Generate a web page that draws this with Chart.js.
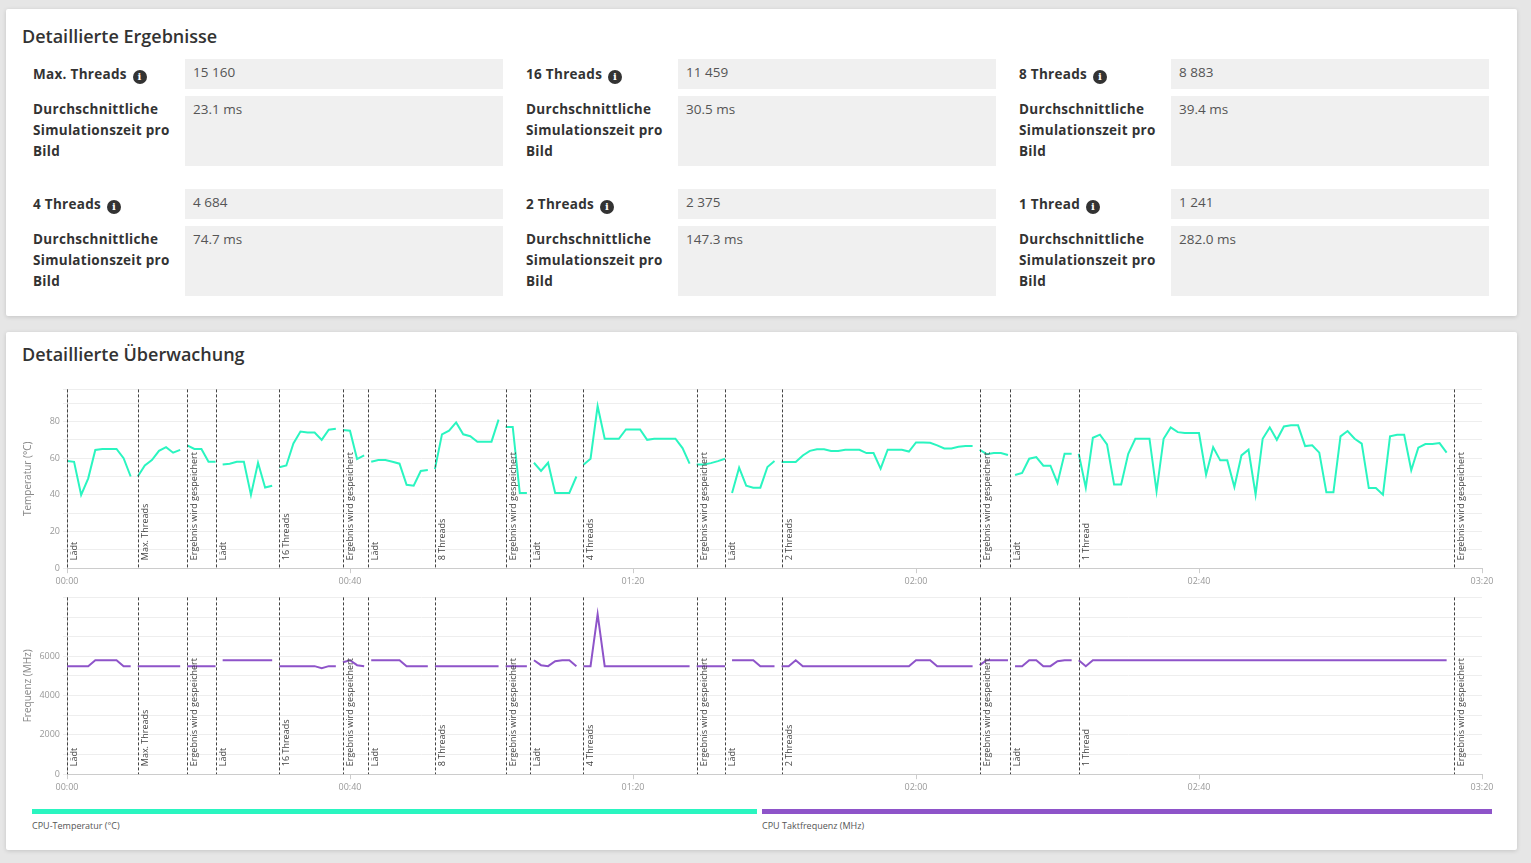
<!DOCTYPE html>
<html lang="de">
<head>
<meta charset="UTF-8">
<title>Detaillierte Ergebnisse</title>
<script src="https://cdn.jsdelivr.net/npm/chart.js"></script>
<style>
  body { margin:0; width:1531px; height:863px; background:#e6e6e6; font-family:"Open Sans", sans-serif; position:relative; overflow:hidden; }
  .card { position:absolute; left:6px; width:1511px; background:#fff; box-shadow:0 1px 4px rgba(0,0,0,0.15); border-radius:2px; }
  .card h2 { position:absolute; left:16px; margin:0; font-size:18px; font-weight:600; color:#333; }
  .lbl { position:absolute; font-size:13.5px; font-weight:700; color:#333; line-height:21px; letter-spacing:0.3px; }
  .val { position:absolute; width:318px; background:#f0f0f0; font-size:13.5px; color:#555; padding:4px 8px; box-sizing:border-box; }
  .info { display:inline-block; width:14px; height:14px; border-radius:50%; background:#333; color:#fff; font-size:10px; line-height:14px; text-align:center; font-family:"DejaVu Serif",serif; font-weight:700; vertical-align:-1px; margin-left:2px; }
  canvas { position:absolute; }
  .leg { position:absolute; height:5px; }
  .legt { position:absolute; font-size:9px; color:#555; }
</style>
</head>
<body>
<div class="card" style="top:9px;height:307px" id="c1"><h2 style="top:15px">Detaillierte Ergebnisse</h2></div>
<div class="card" style="top:332px;height:518px"><h2 style="top:10px">Detaillierte Überwachung</h2></div>
<canvas id="tempChart" style="left:20px;top:381px;width:1480px;height:209px"></canvas>
<canvas id="freqChart" style="left:20px;top:589px;width:1480px;height:207px"></canvas>
<div class="leg" style="left:32px;top:809px;width:725px;background:#2af5c0"></div>
<div class="leg" style="left:762px;top:809px;width:730px;background:#8e54c9"></div>
<div class="legt" style="left:32px;top:819px">CPU-Temperatur (°C)</div>
<div class="legt" style="left:762px;top:819px">CPU Taktfrequenz (MHz)</div>

<script>
// result table
const resultNames = ['Max. Threads', '16 Threads', '8 Threads', '4 Threads', '2 Threads', '1 Thread'];
const resultScores = ['15 160', '11 459', '8 883', '4 684', '2 375', '1 241'];
const resultTimes = ['23.1 ms', '30.5 ms', '39.4 ms', '74.7 ms', '147.3 ms', '282.0 ms'];

// phase markers (seconds)
const phaseTimes = [0, 10, 17, 21, 30, 39, 42.5, 52, 62, 65.5, 73, 89, 93, 101, 129, 133.3, 143, 196];
const phaseLabels = ['Lädt', 'Max. Threads', 'Ergebnis wird gespeichert', 'Lädt', '16 Threads', 'Ergebnis wird gespeichert',
  'Lädt', '8 Threads', 'Ergebnis wird gespeichert', 'Lädt', '4 Threads', 'Ergebnis wird gespeichert', 'Lädt', '2 Threads',
  'Ergebnis wird gespeichert', 'Lädt', '1 Thread', 'Ergebnis wird gespeichert'];

// start second of each measured segment
const segmentStarts = [0, 10, 17, 22, 30, 39, 43, 52, 62, 66, 73, 89, 94, 101, 129, 134, 143];
const tempSegments = [
  [58.5,58,40,49,64.5,65,65,65,60,50],
  [50,56,59,64,66,63,64.5],
  [67,65,65,58,58],
  [56.5,57,58,58,40,57.5,44,45],
  [55,56,68,74.5,74,74,70,75.5,76],
  [75.3,75,59.5,61.5],
  [58,59,59,58,57,45.5,45,53,53.5],
  [54,73,75,79.5,73,72,69,69,69,81],
  [77,77,41,41],
  [57.5,53,57.5,41,41,41,50],
  [56.4,59.7,88.4,70.6,70.6,70.6,75.7,75.7,75.7,70,70.6,70.6,70.6,70.6,65.5,57],
  [56.6,56.6,57.3,58.4,59.7],
  [41,54.8,45,43.9,43.9,55.2,58.4],
  [57.9,57.9,57.9,61.5,64,64.8,64.8,63.9,63.9,64.6,64.6,64.6,62.8,62.8,54.3,64.6,64.6,64.6,63.6,68.6,68.6,68.4,67,65.3,65.3,66.2,66.6,66.6],
  [64.6,62.2,62.8,62.8,61.7],
  [50.8,51.9,59.7,60.6,55.9,55.9,46.5,62.4,62.4],
  [62.4,43.9,71.1,72.8,67.5,45.6,45.6,62.4,70.6,70.6,70.6,41.9,70.6,76.8,74.2,73.7,73.7,73.7,51,66,58.8,58.8,44.3,61.5,64.6,40.1,
   70.6,76.8,70,77.3,77.9,77.9,66.6,67,63,41.4,41.4,71.9,74.8,70.6,67.9,43.7,43.7,40.1,71.9,72.8,72.8,53.4,65.7,67.7,67.7,68.2,63]
];
const freqSegments = [
  [5500,5500,5500,5500,5800,5800,5800,5800,5500,5500],
  [5500,5500,5500,5500,5500,5500,5500],
  [5500,5500,5500,5500,5500],
  [5800,5800,5800,5800,5800,5800,5800,5800],
  [5500,5500,5500,5500,5500,5500,5400,5500,5500],
  [5700,5800,5550,5500],
  [5800,5800,5800,5800,5800,5500,5500,5500,5500],
  [5500,5500,5500,5500,5500,5500,5500,5500,5500,5500],
  [5500,5500,5500,5500],
  [5800,5550,5500,5750,5800,5800,5500],
  [5500,5500,8150,5500,5500,5500,5500,5500,5500,5500,5500,5500,5500,5500,5500,5500],
  [5500,5500,5500,5500,5500],
  [5800,5800,5800,5800,5500,5500,5500],
  [5500,5500,5800,5500,5500,5500,5500,5500,5500,5500,5500,5500,5500,5500,5500,5500,5500,5500,5500,5800,5800,5800,5500,5500,5500,5500,5500,5500],
  [5550,5800,5800,5800,5800],
  [5500,5500,5800,5800,5500,5500,5750,5800,5800],
  [5800,5500].concat(new Array(51).fill(5800))
];

// build table
const c1 = document.getElementById('c1');
resultNames.forEach((name, i) => {
  const col = i % 3, row = Math.floor(i / 3);
  const lx = 27 + col * 493, bx = 179 + col * 493, ty = row * 130;
  c1.insertAdjacentHTML('beforeend',
    `<div class="lbl" style="left:${lx}px;top:${55 + ty}px">${name} <span class="info">i</span></div>` +
    `<div class="val" style="left:${bx}px;top:${50 + ty}px;height:30px">${resultScores[i]}</div>` +
    `<div class="lbl" style="left:${lx}px;top:${90 + ty}px">Durchschnittliche<br>Simulationszeit pro<br>Bild</div>` +
    `<div class="val" style="left:${bx}px;top:${87 + ty}px;height:70px">${resultTimes[i]}</div>`);
});

function buildPoints(segs) {
  const pts = [];
  segs.forEach((vals, s) => {
    vals.forEach((v, i) => pts.push({ x: segmentStarts[s] + i, y: v }));
    pts.push({ x: segmentStarts[s] + vals.length - 0.5, y: null });
  });
  return pts;
}

const phasePlugin = {
  id: 'phases',
  afterDatasetsDraw(chart) {
    const { ctx, chartArea, scales } = chart;
    ctx.save();
    phaseTimes.forEach((t, i) => {
      const x = Math.round(scales.x.getPixelForValue(t)) + 0.5;
      ctx.strokeStyle = '#444';
      ctx.lineWidth = 1;
      ctx.setLineDash([3, 2]);
      ctx.beginPath();
      ctx.moveTo(x, chartArea.top);
      ctx.lineTo(x, chartArea.bottom);
      ctx.stroke();
      ctx.setLineDash([]);
      ctx.translate(x + 7, chartArea.bottom - 8);
      ctx.rotate(-Math.PI / 2);
      ctx.fillStyle = '#444';
      ctx.font = '9px "Open Sans"';
      ctx.textBaseline = 'middle';
      ctx.fillText(phaseLabels[i], 0, 0);
      ctx.setTransform(chart.currentDevicePixelRatio, 0, 0, chart.currentDevicePixelRatio, 0, 0);
    });
    ctx.restore();
  }
};

function fmtTime(v) {
  const m = Math.floor(v / 60), s = v % 60;
  return String(m).padStart(2, '0') + ':' + String(s).padStart(2, '0');
}

function makeChart(id, points, color, title, max, step, lastLabel) {
  return new Chart(document.getElementById(id), {
    type: 'line',
    data: { datasets: [{ data: points, borderColor: color, borderWidth: 2, pointRadius: 0, tension: 0, spanGaps: false }] },
    options: {
      responsive: false, animation: false,
      layout: { padding: { top: 0, right: 18, left: 0, bottom: 0 } },
      plugins: { legend: { display: false }, tooltip: { enabled: false } },
      scales: {
        x: {
          type: 'linear', min: 0, max: 200,
          ticks: { stepSize: 40, callback: fmtTime, color: '#999', font: { size: 9, family: 'Open Sans' }, maxRotation: 0 },
          grid: { drawOnChartArea: false, tickLength: 5, color: '#ccc' },
          border: { color: '#ccc' }
        },
        y: {
          min: 0, max: max,
          afterFit: s => { s.width = 47; },
          ticks: { stepSize: step / 2, callback: v => (Math.round(v) % step === 0 && v <= lastLabel ? v : ''), color: '#999', font: { size: 9, family: 'Open Sans' }, autoSkip: false },
          grid: { color: '#eee', tickLength: 4 },
          border: { color: '#ccc' },
          title: { display: true, text: title, color: '#888', font: { size: 10, family: 'Open Sans' }, padding: 2 }
        }
      }
    },
    plugins: [phasePlugin]
  });
}

const tc = document.getElementById('tempChart'); tc.width = 1480; tc.height = 209;
const fc = document.getElementById('freqChart'); fc.width = 1480; fc.height = 207;
makeChart('tempChart', buildPoints(tempSegments), '#2af5c0', 'Temperatur (°C)', 97.5, 20, 80);
makeChart('freqChart', buildPoints(freqSegments), '#8e54c9', 'Frequenz (MHz)', 9000, 2000, 6000);
</script>
</body>
</html>
